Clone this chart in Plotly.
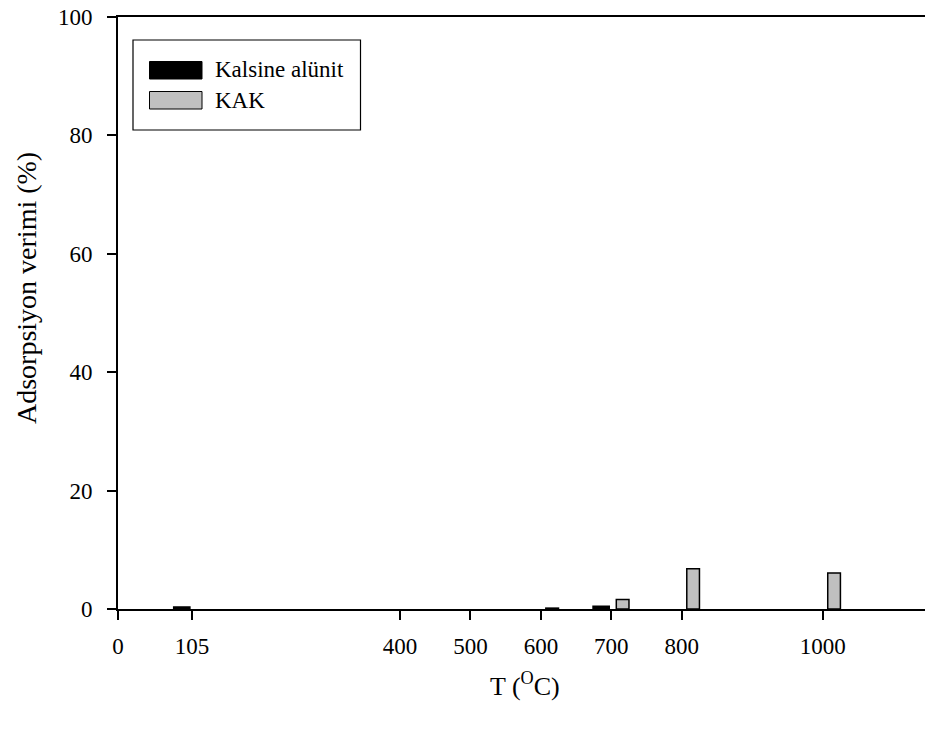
import plotly.graph_objects as go

# Calcination temperatures (°C) and adsorption efficiency (%)
temperatures = [105, 400, 500, 600, 700, 800, 1000]
kalsine_alunit = [0.35, 0, 0, 0, 0.45, 0, 0]
kak = [0, 0, 0, 0.15, 1.6, 6.8, 6.1]
series_names = ["Kalsine alünit", "KAK"]
x_ticks = [0, 105, 400, 500, 600, 700, 800, 1000]
y_ticks = [0, 20, 40, 60, 80, 100]

FONT = "Liberation Serif"
W, H = 925, 729
L, R, T, B = 118, 0, 17, 120
PW, PH = W - L - R, H - T - B


def px(x):
    return (x - L) / PW


def py(y):
    return (H - B - y) / PH


def outline(values):
    # no outline on empty bars, so nothing is drawn along the axis
    return [1.5 if v > 0 else 0 for v in values]


fig = go.Figure()
fig.add_trace(go.Bar(
    x=temperatures, y=kalsine_alunit, name=series_names[0],
    width=23, offset=-26,
    marker=dict(color="black", line=dict(color="black", width=outline(kalsine_alunit))),
    showlegend=False,
))
fig.add_trace(go.Bar(
    x=temperatures, y=kak, name=series_names[1],
    width=18, offset=7,
    marker=dict(color="#c0c0c0", line=dict(color="black", width=outline(kak))),
    showlegend=False,
))

# Legend box drawn in paper space
shapes = [
    dict(type="rect", xref="paper", yref="paper",
         x0=px(133), x1=px(360.5), y0=py(130), y1=py(40),
         line=dict(color="black", width=1.2), fillcolor="white"),
    dict(type="rect", xref="paper", yref="paper",
         x0=px(149.5), x1=px(202), y0=py(79), y1=py(61.5),
         line=dict(color="black", width=1), fillcolor="black"),
    dict(type="rect", xref="paper", yref="paper",
         x0=px(149.5), x1=px(202), y0=py(109), y1=py(91.5),
         line=dict(color="black", width=1), fillcolor="#c0c0c0"),
]
annotations = [
    dict(text=series_names[0], xref="paper", yref="paper", x=px(213), y=py(70),
         xanchor="left", yanchor="middle", showarrow=False,
         font=dict(family=FONT, size=23, color="black")),
    dict(text=series_names[1], xref="paper", yref="paper", x=px(213), y=py(100),
         xanchor="left", yanchor="middle", showarrow=False,
         font=dict(family=FONT, size=23, color="black")),
    dict(text="T (<sup>O</sup>C)", xref="paper", yref="paper", x=px(525), y=py(684),
         xanchor="center", yanchor="middle", showarrow=False,
         font=dict(family=FONT, size=26, color="black")),
    dict(text="Adsorpsiyon verimi (%)", xref="paper", yref="paper", x=px(26), y=py(288),
         xanchor="center", yanchor="middle", showarrow=False, textangle=-90,
         font=dict(family=FONT, size=28, color="black")),
]

fig.update_layout(
    width=W, height=H,
    margin=dict(l=L, r=R, t=T, b=B, pad=0),
    plot_bgcolor="white", paper_bgcolor="white",
    barmode="overlay",
    font=dict(family=FONT, size=23, color="black"),
    shapes=shapes, annotations=annotations,
    xaxis=dict(
        range=[0, 1145], tickmode="array", tickvals=x_ticks,
        ticktext=[str(v) for v in x_ticks],
        showgrid=False, zeroline=False,
        showline=True, linecolor="black", linewidth=2, mirror=True,
        ticks="outside", ticklen=9, tickwidth=1.5, tickcolor="black",
        ticklabelstandoff=6,
        tickfont=dict(family=FONT, size=23, color="black"),
    ),
    yaxis=dict(
        range=[0, 100], tickmode="array", tickvals=y_ticks,
        showgrid=False, zeroline=False,
        showline=True, linecolor="black", linewidth=2,
        ticks="outside", ticklen=9, tickwidth=1.5, tickcolor="black",
        ticklabelstandoff=10,
        tickfont=dict(family=FONT, size=23, color="black"),
    ),
)

fig.write_html("out.html")
